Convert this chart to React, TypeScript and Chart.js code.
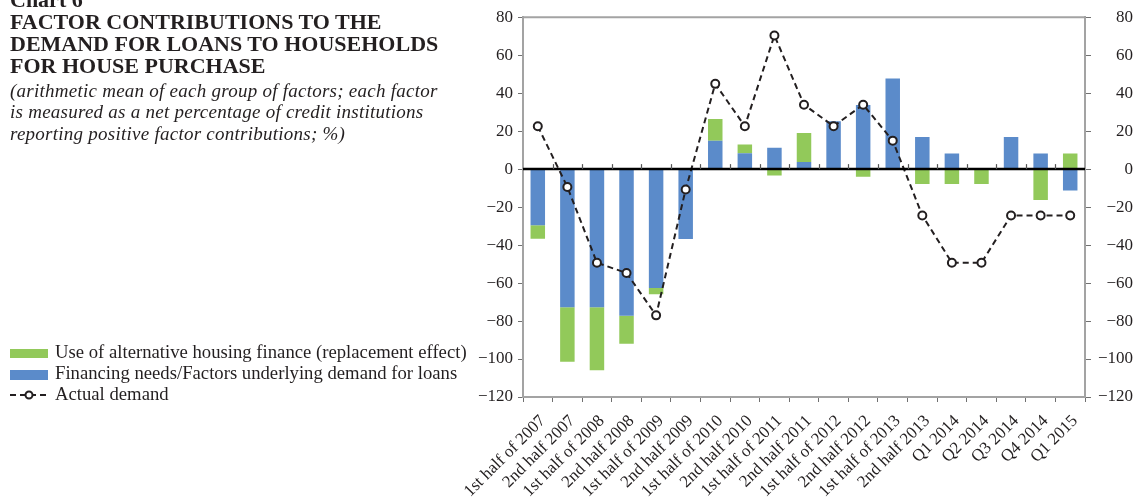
import { useEffect, useRef } from 'react';
import { Chart, registerables } from 'chart.js';

Chart.register(...registerables);

const categories = [
  '1st half of 2007', '2nd half 2007', '1st half of 2008', '2nd half 2008',
  '1st half of 2009', '2nd half 2009', '1st half of 2010', '2nd half 2010',
  '1st half of 2011', '2nd half 2011', '1st half of 2012', '2nd half 2012',
  '1st half of 2013', '2nd half 2013', 'Q1 2014', 'Q2 2014', 'Q3 2014',
  'Q4 2014', 'Q1 2015',
];

const financingNeeds = [
  -29.6, -72.8, -72.8, -77.2, -62.6, -36.8, 15.0, 8.3, 11.2, 3.7,
  25.2, 33.7, 47.7, 16.9, 8.2, null, 16.9, 8.2, -11.3,
];

const alternativeFinance = [
  -7.1, -28.7, -33.1, -14.7, -3.3, null, 11.4, 4.6, -3.3, 15.3,
  null, -4.0, null, -7.8, -7.8, -7.8, null, -16.3, 8.2,
];

const actualDemand = [
  22.6, -9.4, -49.3, -54.7, -77.0, -10.7, 44.9, 22.6, 70.4, 33.9,
  22.6, 33.9, 15.0, -24.4, -49.3, -49.3, -24.4, -24.4, -24.4,
];

const yTicks = [-120, -100, -80, -60, -40, -20, 0, 20, 40, 60, 80];

const titleLines = [
  'Chart 6',
  'FACTOR CONTRIBUTIONS TO THE',
  'DEMAND FOR LOANS TO HOUSEHOLDS',
  'FOR HOUSE PURCHASE',
];
const subtitleLines = [
  '(arithmetic mean of each group of factors; each factor',
  'is measured as a net percentage of credit institutions',
  'reporting positive factor contributions; %)',
];
const legendLabels = [
  'Use of alternative housing finance (replacement effect)',
  'Financing needs/Factors underlying demand for loans',
  'Actual demand',
];

const BLUE = '#5b8bca';
const GREEN = '#92c95a';
const INK = '#231f20';
const AXIS = '#a3a3a3';
const FONT = '"Liberation Serif", "Times New Roman", serif';

const fmt = (v: number) => (v < 0 ? '\u2212' + Math.abs(v) : String(v));

const overlayPlugin = {
  id: 'overlay',
  afterDatasetsDraw(chart: any) {
    const { ctx, chartArea, scales } = chart;
    const y0 = scales.y.getPixelForValue(0);
    ctx.save();
    ctx.strokeStyle = AXIS;
    ctx.lineWidth = 2;
    ctx.beginPath();
    ctx.moveTo(chartArea.left, chartArea.top);
    ctx.lineTo(chartArea.right, chartArea.top);
    ctx.stroke();
    ctx.strokeStyle = '#000';
    ctx.lineWidth = 2.5;
    ctx.beginPath();
    ctx.moveTo(chartArea.left, y0);
    ctx.lineTo(chartArea.right, y0);
    ctx.stroke();
    const n = categories.length;
    const w = (chartArea.right - chartArea.left) / n;
    ctx.strokeStyle = '#555';
    ctx.lineWidth = 1.2;
    for (let i = 1; i < n; i++) {
      const x = Math.round(chartArea.left + i * w) + 0.5;
      ctx.beginPath();
      ctx.moveTo(x, y0 - 5);
      ctx.lineTo(x, y0);
      ctx.stroke();
    }
    ctx.restore();
  },
};

export default function App() {
  const ref = useRef<HTMLCanvasElement | null>(null);

  useEffect(() => {
    if (!ref.current) return;
    const tickFont = { family: FONT, size: 17 };
    const chart = new Chart(ref.current, {
      type: 'bar',
      data: {
        labels: categories,
        datasets: [
          {
            type: 'line',
            label: legendLabels[2],
            data: actualDemand,
            borderColor: INK,
            borderWidth: 2,
            borderDash: [6, 4],
            pointRadius: 4,
            pointBackgroundColor: '#fff',
            pointBorderColor: INK,
            pointBorderWidth: 2,
            tension: 0,
            fill: false,
            stack: 'line',
            order: 0,
          } as any,
          {
            label: legendLabels[1],
            data: financingNeeds,
            backgroundColor: BLUE,
            stack: 'bars',
            order: 1,
            barPercentage: 0.49,
            categoryPercentage: 1,
          },
          {
            label: legendLabels[0],
            data: alternativeFinance,
            backgroundColor: GREEN,
            stack: 'bars',
            order: 2,
            barPercentage: 0.49,
            categoryPercentage: 1,
          },
        ],
      },
      options: {
        responsive: false,
        animation: false,
        layout: { padding: { top: 14, right: 7, left: 0, bottom: 0 } },
        plugins: { legend: { display: false }, tooltip: { enabled: false } },
        scales: {
          x: {
            stacked: true,
            offset: true,
            grid: { display: true, drawOnChartArea: false, drawTicks: true, tickLength: 5, color: '#707070', offset: true },
            border: { color: AXIS, width: 2 },
            ticks: { minRotation: 45, maxRotation: 45, autoSkip: false, font: tickFont, color: INK, padding: 9, labelOffset: 5 },
            afterFit: (s: any) => { s.height = 107; },
          },
          y: {
            stacked: true,
            min: -120,
            max: 80,
            afterBuildTicks: (s: any) => { s.ticks = yTicks.map((v) => ({ value: v })); },
            ticks: { font: tickFont, color: INK, padding: 5, callback: (v: any) => fmt(Number(v)) },
            grid: { drawOnChartArea: false, tickLength: 5, color: '#707070' },
            border: { color: AXIS, width: 2 },
            afterFit: (s: any) => { s.width = 523; },
          },
          y2: {
            position: 'right',
            min: -120,
            max: 80,
            afterBuildTicks: (s: any) => { s.ticks = yTicks.map((v) => ({ value: v })); },
            ticks: { font: tickFont, color: INK, padding: 7, crossAlign: 'far', callback: (v: any) => fmt(Number(v)) },
            grid: { drawOnChartArea: false, tickLength: 6, color: '#707070' },
            border: { color: AXIS, width: 2 },
            afterFit: (s: any) => { s.width = 48; },
          },
        },
      },
      plugins: [overlayPlugin],
    });
    return () => chart.destroy();
  }, []);

  const rowBaselines = [358.3, 379.5, 400.7];

  return (
    <div style={{ position: 'absolute', left: 0, top: 0, width: 1140, height: 504, overflow: 'hidden', background: '#fff', fontFamily: FONT, color: INK }}>
      <canvas ref={ref} width={1140} height={504} style={{ position: 'absolute', left: 0, top: 0, width: 1140, height: 504 }} />
      <div style={{ position: 'absolute', left: 10, top: -11.4, fontWeight: 'bold', fontSize: 22, lineHeight: '22px', whiteSpace: 'nowrap' }}>
        {titleLines.map((t, i) => (<div key={i}>{t}</div>))}
      </div>
      <div style={{ position: 'absolute', left: 10, top: 79.6, fontStyle: 'italic', fontSize: 19, letterSpacing: '0.25px', lineHeight: '21.5px', whiteSpace: 'nowrap' }}>
        {subtitleLines.map((t, i) => (<div key={i}>{t}</div>))}
      </div>
      <div style={{ position: 'absolute', left: 10, top: 348.5, width: 38, height: 9.5, background: GREEN }} />
      <div style={{ position: 'absolute', left: 10, top: 370, width: 38, height: 9.5, background: BLUE }} />
      <svg style={{ position: 'absolute', left: 8, top: 389 }} width={42} height={12}>
        <line x1={2} y1={6} x2={40} y2={6} stroke={INK} strokeWidth={2} strokeDasharray="6 4" />
        <circle cx={21} cy={6} r={3.5} fill="#fff" stroke={INK} strokeWidth={2} />
      </svg>
      {legendLabels.map((t, i) => (
        <div key={i} style={{ position: 'absolute', left: 55, top: rowBaselines[i] - 16.6, fontSize: 18.7, lineHeight: '20px', whiteSpace: 'nowrap' }}>{t}</div>
      ))}
    </div>
  );
}
